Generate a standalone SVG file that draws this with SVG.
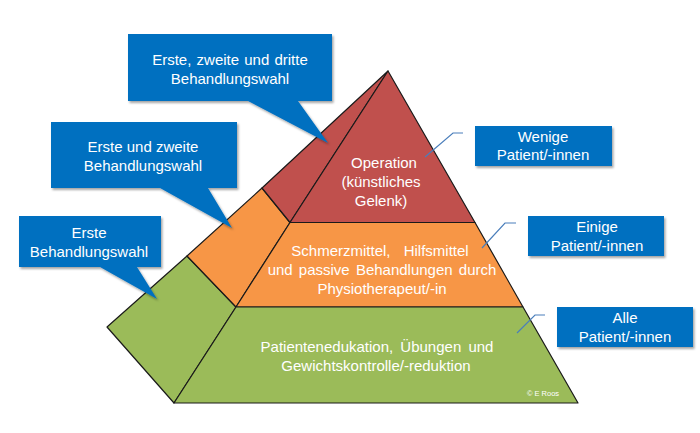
<svg xmlns="http://www.w3.org/2000/svg" width="700" height="433" viewBox="0 0 700 433">
<defs>
<filter id="sh" x="-10%" y="-10%" width="125%" height="130%">
<feDropShadow dx="1.5" dy="2" stdDeviation="1.2" flood-color="#000" flood-opacity="0.35"/>
</filter>
<style>
.face{stroke:#1a1a1a;stroke-width:1.2;stroke-linejoin:round}
.red{fill:#C0504D}
.org{fill:#F79646}
.grn{fill:#9BBB59}
.box{fill:#0070C0;filter:url(#sh)}
.t{font-family:"Liberation Sans",Arial,sans-serif;font-size:15px;fill:#fff;text-anchor:middle}
.conn{fill:none;stroke:#4A7EBB;stroke-width:1.2}
</style>
</defs>
<rect width="700" height="433" fill="#fff"/>
<g id="pyramid">
<g id="left-face">
<polygon class="face grn" points="187,256 107,327 174,403 236,307"/>
<polygon class="face org" points="187,256 236,307 290,222.5 262,188"/>
<polygon class="face red" points="262,188 290,222.5 388,71"/>
</g>
<g id="level-top">
<polygon class="face red" points="388,71 475,222.5 290,222.5"/>
<text class="t" x="384" y="168">Operation</text>
<text class="t" x="381" y="187">(künstliches</text>
<text class="t" x="381" y="206">Gelenk)</text>
</g>
<g id="level-middle">
<polygon class="face org" points="290,222.5 475,222.5 523,307 236,307"/>
<text class="t" x="380" y="256" word-spacing="9">Schmerzmittel, Hilfsmittel</text>
<text class="t" x="382" y="275" word-spacing="2">und passive Behandlungen durch</text>
<text class="t" x="382" y="294">Physiotherapeut/-in</text>
</g>
<g id="level-bottom">
<polygon class="face grn" points="236,307 523,307 578,403 174,403"/>
<text class="t" x="377" y="352" word-spacing="3">Patientenedukation, Übungen und</text>
<text class="t" x="376" y="371">Gewichtskontrolle/-reduktion</text>
<text x="543" y="396" font-family="'Liberation Sans',Arial,sans-serif" font-size="7.5" fill="#fff" text-anchor="middle">© E Roos</text>
</g>
</g>
<g id="callout-3">
<path class="box" d="M128,34 H332 V101 H298 L328,143 L248,101 H128 Z"/>
<text class="t" x="230" y="65" word-spacing="1">Erste, zweite und dritte</text>
<text class="t" x="230" y="84">Behandlungswahl</text>
</g>
<g id="callout-2">
<path class="box" d="M51,122 H237 V188 H208 L232,228 L160,188 H51 Z"/>
<text class="t" x="143" y="152">Erste und zweite</text>
<text class="t" x="143" y="171">Behandlungswahl</text>
</g>
<g id="callout-1">
<path class="box" d="M19,216 H161 V267 H137 L157,299 L100,267 H19 Z"/>
<text class="t" x="89" y="238">Erste</text>
<text class="t" x="89" y="257">Behandlungswahl</text>
</g>
<g id="label-wenige">
<rect class="box" x="475" y="126" width="137" height="40"/>
<text class="t" x="543" y="142">Wenige</text>
<text class="t" x="543" y="160">Patient/-innen</text>
</g>
<g id="label-einige">
<rect class="box" x="528" y="216" width="136" height="40"/>
<text class="t" x="597" y="232">Einige</text>
<text class="t" x="597" y="251">Patient/-innen</text>
</g>
<g id="label-alle">
<rect class="box" x="557" y="307" width="136" height="40"/>
<text class="t" x="625" y="323">Alle</text>
<text class="t" x="625" y="342">Patient/-innen</text>
</g>
<g id="connectors">
<polyline class="conn" points="463,133 453,133 425,157"/>
<polyline class="conn" points="516,223 505,223 482,248"/>
<polyline class="conn" points="545,315 535,315 517,333"/>
</g>
</svg>
